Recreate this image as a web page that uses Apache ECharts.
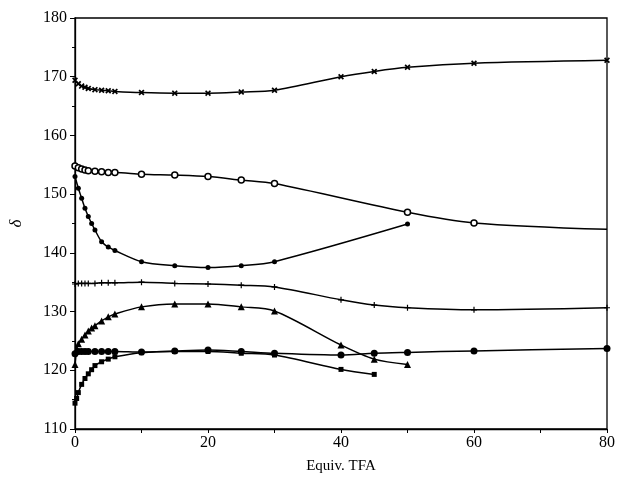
<!DOCTYPE html>
<html>
<head>
<meta charset="utf-8">
<script src="https://cdn.jsdelivr.net/npm/echarts@6/dist/echarts.min.js"></script>
<style>
  html, body { margin: 0; padding: 0; background: #fff; }
  #chart { width: 618px; height: 482px; }
</style>
</head>
<body>
<div id="chart"></div>
<script>
// x = equiv. TFA, y = delta, one pair of arrays per curve
const crossX = [0, 0.5, 1, 1.5, 2, 3, 4, 5, 6, 10, 15, 20, 25, 30, 40, 45, 50, 60, 80];
const crossY = [169.4, 168.8, 168.4, 168.2, 168.0, 167.8, 167.7, 167.6, 167.5, 167.3, 167.2, 167.2, 167.4, 167.7, 170.0, 170.9, 171.6, 172.3, 172.8];

const openX = [0, 0.5, 1, 1.5, 2, 3, 4, 5, 6, 10, 15, 20, 25, 30, 50, 60, 80];
const openY = [154.8, 154.5, 154.3, 154.1, 154.0, 153.9, 153.8, 153.7, 153.7, 153.4, 153.25, 153.0, 152.4, 151.8, 146.9, 145.1, 144.0];

const dotX = [0, 0.5, 1, 1.5, 2, 2.5, 3, 4, 5, 6, 10, 15, 20, 25, 30, 50];
const dotY = [153.0, 151.0, 149.3, 147.6, 146.2, 145.0, 143.9, 141.9, 141.0, 140.4, 138.5, 137.8, 137.5, 137.8, 138.5, 144.9];

const plusX = [0, 0.5, 1, 1.5, 2, 3, 4, 5, 6, 10, 15, 20, 25, 30, 40, 45, 50, 60, 80];
const plusY = [134.7, 134.8, 134.8, 134.8, 134.8, 134.8, 134.9, 134.9, 134.9, 135.0, 134.8, 134.7, 134.5, 134.2, 132.0, 131.1, 130.65, 130.3, 130.65];

const triX = [0, 0.25, 0.5, 1, 1.5, 2, 2.5, 3, 4, 5, 6, 10, 15, 20, 25, 30, 40, 45, 50];
const triY = [121.0, 123.5, 124.5, 125.3, 126.0, 126.7, 127.2, 127.6, 128.4, 129.1, 129.6, 130.8, 131.3, 131.3, 130.8, 130.1, 124.3, 121.9, 121.0];

const discX = [0, 0.5, 1, 1.5, 2, 3, 4, 5, 6, 10, 15, 20, 25, 30, 40, 45, 50, 60, 80];
const discY = [122.8, 123.2, 123.2, 123.2, 123.2, 123.2, 123.2, 123.2, 123.2, 123.1, 123.3, 123.45, 123.2, 122.9, 122.6, 122.9, 123.05, 123.3, 123.7];

const squareX = [0, 0.25, 0.5, 1, 1.5, 2, 2.5, 3, 4, 5, 6, 10, 15, 20, 25, 30, 40, 45];
const squareY = [114.4, 115.2, 116.2, 117.6, 118.6, 119.4, 120.1, 120.8, 121.45, 121.9, 122.3, 123.0, 123.2, 123.2, 122.9, 122.6, 120.15, 119.3];

const xTicks = [0, 20, 40, 60, 80];

const pairs = (xs, ys) => xs.map((x, i) => [x, ys[i]]);

const XMARK = 'path://M0,2L2,0L5,3L8,0L10,2L7,5L10,8L8,10L5,7L2,10L0,8L3,5Z';
const PLUS = 'path://M4,0H6V4H10V6H6V10H4V6H0V4H4Z';

function curve(data, symbol, size, fill) {
  return {
    type: 'line',
    data: data,
    smooth: 0.3,
    symbol: symbol,
    symbolSize: size,
    showSymbol: true,
    lineStyle: { color: '#000', width: 1.5 },
    itemStyle: { color: fill || '#000', borderColor: '#000', borderWidth: fill ? 1.5 : 0 },
    emphasis: { disabled: true },
    z: 3
  };
}

const openData = pairs(openX, openY);
// last point on the right frame has no marker
openData[openData.length - 1] = { value: openData[openData.length - 1], symbol: 'none' };

const chart = echarts.init(document.getElementById('chart'));
chart.setOption({
  animation: false,
  backgroundColor: '#fff',
  grid: {
    left: 71, right: 9, top: 18, bottom: 53,
    show: true, borderColor: '#000', borderWidth: 1.3
  },
  xAxis: {
    type: 'value',
    min: 0, max: 80, interval: 20,
    name: 'Equiv. TFA',
    nameLocation: 'middle',
    nameGap: 30,
    nameTextStyle: { fontFamily: 'Liberation Serif', fontSize: 15, color: '#000' },
    axisLine: { onZero: false, lineStyle: { color: '#000', width: 1.3 } },
    axisTick: { inside: false, length: 4, lineStyle: { color: '#000' } },
    minorTick: { show: true, splitNumber: 2, length: 4, lineStyle: { color: '#000' } },
    splitLine: { show: false },
    axisLabel: {
      color: '#000', fontFamily: 'Liberation Serif', fontSize: 16, margin: 6,
      formatter: v => xTicks.includes(v) ? String(v) : ''
    }
  },
  yAxis: {
    type: 'value',
    min: 110, max: 180, interval: 10,
    name: 'δ',
    nameLocation: 'middle',
    nameGap: 50,
    nameRotate: 90,
    nameTextStyle: { fontFamily: 'Liberation Serif', fontSize: 17, fontStyle: 'italic', color: '#000' },
    axisLine: { lineStyle: { color: '#000', width: 1.3 } },
    axisTick: { length: 5, lineStyle: { color: '#000' } },
    minorTick: { show: true, splitNumber: 2, length: 3, lineStyle: { color: '#000' } },
    splitLine: { show: false },
    axisLabel: { color: '#000', fontFamily: 'Liberation Serif', fontSize: 16, margin: 8 }
  },
  series: [
    curve(pairs(crossX, crossY), XMARK, 6),
    curve(openData, 'circle', 6, '#fff'),
    curve(pairs(dotX, dotY), 'circle', 5),
    curve(pairs(plusX, plusY), PLUS, 6),
    curve(pairs(triX, triY), 'triangle', 7),
    curve(pairs(discX, discY), 'circle', 7),
    curve(pairs(squareX, squareY), 'rect', 5)
  ]
});
</script>
</body>
</html>
